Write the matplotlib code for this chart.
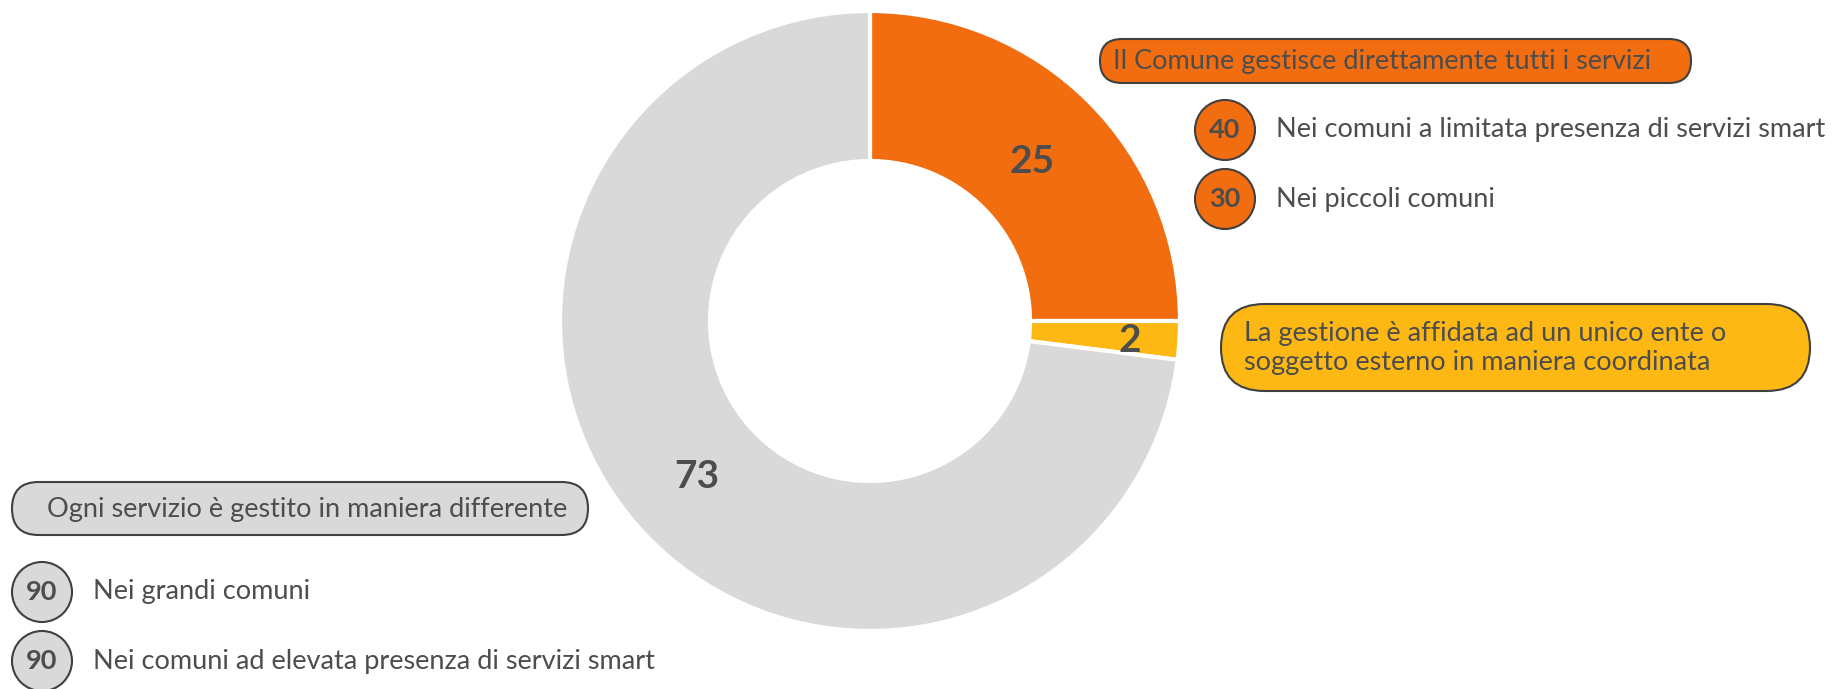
import matplotlib

matplotlib.use("Agg")
import matplotlib.pyplot as plt
from matplotlib.patches import FancyBboxPatch, Circle
import numpy as np

plt.rcParams["font.family"] = ["Lato", "DejaVu Sans"]

W, H = 1832, 689

# donut shares
shares = [25, 2, 73]
share_names = [
    "Il Comune gestisce direttamente tutti i servizi",
    "La gestione è affidata ad un unico ente o\nsoggetto esterno in maniera coordinata",
    "Ogni servizio è gestito in maniera differente",
]
share_colors = ["#F26C10", "#FDB813", "#D9D9D9"]

# breakdowns next to the callouts
orange_vals = [40, 30]
orange_names = ["Nei comuni a limitata presenza di servizi smart", "Nei piccoli comuni"]
grey_vals = [90, 90]
grey_names = ["Nei grandi comuni", "Nei comuni ad elevata presenza di servizi smart"]

TXT = "#4D4D4D"
EDGE = "#404040"
FS = 19.5


def Y(y):
    # work in image pixel coords, origin at top
    return H - y


fig = plt.figure(figsize=(W / 100, H / 100), dpi=100)
ax = fig.add_axes([0, 0, 1, 1])

cx, cy, R, r_in = 870, 321, 310, 160
wedges, _ = ax.pie(shares, colors=share_colors, startangle=90, counterclock=False,
                   radius=R, center=(cx, Y(cy)),
                   wedgeprops=dict(width=R - r_in, edgecolor="white", linewidth=3))

# value labels in the ring ("2" sits a bit further out)
lab_r = [0.74, 0.84, 0.745]
for w, v, f in zip(wedges, shares, lab_r):
    a = np.deg2rad((w.theta1 + w.theta2) / 2)
    ax.text(cx + f * R * np.cos(a), Y(cy) + f * R * np.sin(a) - 3, str(v),
            ha="center", va="center", fontsize=28, fontweight="bold", color=TXT)


def pill(x0, y0, x1, y1, fc):
    h = y1 - y0
    p = FancyBboxPatch((x0, Y(y1)), x1 - x0, h,
                       boxstyle="round,pad=0,rounding_size=%f" % (h / 2),
                       fc=fc, ec=EDGE, lw=1.5)
    ax.add_patch(p)


def bubble(x, y, val, name, fc):
    ax.add_patch(Circle((x, Y(y)), 30, fc=fc, ec=EDGE, lw=1.5))
    ax.text(x, Y(y), str(val), ha="center", va="center", fontsize=FS,
            fontweight="bold", color=TXT)
    ax.text(x + 51, Y(y), name, ha="left", va="center", fontsize=FS, color=TXT)


# orange callout
pill(1100, 39, 1691, 83, share_colors[0])
ax.text(1113, Y(61), share_names[0], ha="left", va="center", fontsize=FS, color=TXT)
for i, (v, n) in enumerate(zip(orange_vals, orange_names)):
    bubble(1225, 130 + i * 69, v, n, share_colors[0])

# yellow callout
pill(1221, 304, 1810, 391, share_colors[1])
ax.text(1244, Y(348), share_names[1], ha="left", va="center", fontsize=FS,
        color=TXT, linespacing=1.2)

# grey callout
pill(12, 482, 588, 535, share_colors[2])
ax.text(307, Y(509), share_names[2], ha="center", va="center", fontsize=FS, color=TXT)
for i, (v, n) in enumerate(zip(grey_vals, grey_names)):
    bubble(42, 592 + i * 69, v, n, share_colors[2])

ax.set_xlim(0, W)
ax.set_ylim(0, H)
ax.set_aspect("equal")
ax.axis("off")

fig.savefig("out.png", dpi=100)
